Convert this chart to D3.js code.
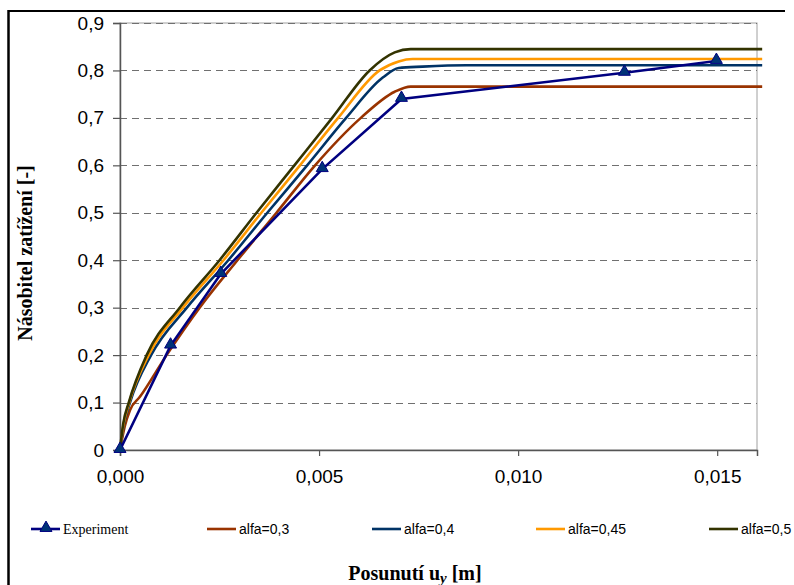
<!DOCTYPE html>
<html>
<head>
<meta charset="utf-8">
<script src="https://cdn.jsdelivr.net/npm/d3@7"></script>
<style>
  body { margin: 0; background: #fff; }
  svg { display: block; }
  .tick-label { font-family: "Liberation Sans", Arial, sans-serif; font-size: 19px; fill: #000; }
  .leg { font-size: 14px; fill: #000; }
  .title { font-family: "Liberation Serif", "Times New Roman", serif; font-weight: bold; font-size: 20px; fill: #000; }
</style>
</head>
<body>
<svg width="794" height="585"></svg>
<script>
// data (x in m, y = load multiplier)
var expX   = [0, 0.00127, 0.00253, 0.00508, 0.00707, 0.01267, 0.01498];
var expY   = [0, 0.220, 0.371, 0.592, 0.740, 0.795, 0.820];

var a03X = [0, 0.00012, 0.00025, 0.00050, 0.00117, 0.00200, 0.00295, 0.00393, 0.00490, 0.00605, 0.00690, 0.00730, 0.01613];
var a03Y = [0, 0.050, 0.084, 0.112, 0.200, 0.300, 0.400, 0.500, 0.600, 0.700, 0.755, 0.766, 0.766];

var a04X = [0, 0.00010, 0.00025, 0.00078, 0.00168, 0.00272, 0.00370, 0.00470, 0.00568, 0.00660, 0.00700, 0.00760, 0.00870, 0.01613];
var a04Y = [0, 0.055, 0.100, 0.200, 0.300, 0.400, 0.500, 0.600, 0.700, 0.785, 0.805, 0.808, 0.811, 0.811];

var a045X = [0, 0.00009, 0.00023, 0.00072, 0.00158, 0.00260, 0.00355, 0.00452, 0.00548, 0.00652, 0.00700, 0.00735, 0.01613];
var a045Y = [0, 0.055, 0.100, 0.200, 0.300, 0.400, 0.500, 0.600, 0.700, 0.800, 0.819, 0.824, 0.824];

var a05X = [0, 0.00008, 0.00022, 0.00067, 0.00150, 0.00250, 0.00343, 0.00438, 0.00533, 0.00627, 0.00690, 0.00730, 0.01613];
var a05Y = [0, 0.055, 0.100, 0.200, 0.300, 0.400, 0.500, 0.600, 0.700, 0.800, 0.838, 0.845, 0.845];

var xTicks = [0, 0.005, 0.010, 0.015];
var yTicks = [0, 0.1, 0.2, 0.3, 0.4, 0.5, 0.6, 0.7, 0.8, 0.9];

var series = [
  {name: "alfa=0,3",  xs: a03X,  ys: a03Y,  color: "#993300"},
  {name: "alfa=0,4",  xs: a04X,  ys: a04Y,  color: "#003366"},
  {name: "alfa=0,45", xs: a045X, ys: a045Y, color: "#ff9900"},
  {name: "alfa=0,5",  xs: a05X,  ys: a05Y,  color: "#333300"}
];

var svg = d3.select("svg");
var pLeft = 120, pRight = 757, pTop = 23, pBottom = 450;

var x = d3.scaleLinear().domain([0, 0.016]).range([pLeft, pRight]);
var y = d3.scaleLinear().domain([0, 0.9]).range([pBottom, pTop]);

var fmtX = d3.format(".3f"), fmtY = function(d) { return d === 0 ? "0" : d3.format(".1f")(d); };
var comma = function(s) { return s.replace(".", ","); };

// outer frame (only top and left visible)
svg.append("line").attr("x1", 8).attr("x2", 785).attr("y1", 11).attr("y2", 11)
  .attr("stroke", "#000").attr("stroke-width", 2);
svg.append("line").attr("x1", 8.5).attr("x2", 8.5).attr("y1", 10).attr("y2", 585)
  .attr("stroke", "#000").attr("stroke-width", 2.5);

// plot area border
svg.append("rect").attr("x", pLeft).attr("y", pTop).attr("width", pRight - pLeft).attr("height", pBottom - pTop)
  .attr("fill", "none").attr("stroke", "#a0a0a0").attr("stroke-width", 1);

// gridlines
svg.append("g").selectAll("line").data(yTicks.filter(function(d) { return d > 0; })).enter().append("line")
  .attr("x1", pLeft).attr("x2", pRight)
  .attr("y1", function(d) { return Math.round(y(d)) + 0.5; })
  .attr("y2", function(d) { return Math.round(y(d)) + 0.5; })
  .attr("stroke", "#707070").attr("stroke-dasharray", "7,5");

// axes
var yAxis = svg.append("g").attr("transform", "translate(" + pLeft + ",0)")
  .call(d3.axisLeft(y).tickValues(yTicks).tickSize(7).tickPadding(9).tickFormat(function(d) { return comma(fmtY(d)); }));
var xAxis = svg.append("g").attr("transform", "translate(0," + pBottom + ")")
  .call(d3.axisBottom(x).tickValues(xTicks).tickSize(6).tickPadding(14).tickFormat(function(d) { return comma(fmtX(d)); }));
[yAxis, xAxis].forEach(function(a) {
  a.select(".domain").attr("stroke", "#555").attr("stroke-width", 1.5);
  a.selectAll(".tick line").attr("stroke", "#555").attr("stroke-width", 1.2);
  a.selectAll(".tick text").attr("class", "tick-label").attr("font-size", null).attr("font-family", null);
});

// simulated curves (smooth)
var curve = d3.line().curve(d3.curveMonotoneX).x(function(d) { return x(d[0]); }).y(function(d) { return y(d[1]); });
series.forEach(function(s) {
  var pts = s.xs.map(function(v, i) { return [v, s.ys[i]]; });
  svg.append("path").datum(pts).attr("d", curve)
    .attr("fill", "none").attr("stroke", s.color).attr("stroke-width", 2.6).attr("stroke-linejoin", "round");
});

// experiment (straight segments)
var line = d3.line().x(function(d) { return x(d[0]); }).y(function(d) { return y(d[1]); });
var expPts = expX.map(function(v, i) { return [v, expY[i]]; });
svg.append("path").datum(expPts).attr("d", line)
  .attr("fill", "none").attr("stroke", "#000080").attr("stroke-width", 2.6);
var tri = d3.symbol().type(d3.symbolTriangle).size(62);
svg.append("g").selectAll("path").data(expPts).enter().append("path")
  .attr("d", tri)
  .attr("transform", function(d) { return "translate(" + x(d[0]) + "," + (y(d[1]) - 1) + ")"; })
  .attr("fill", "#003377").attr("stroke", "#000080").attr("stroke-width", 1);

// legend
var legY = 529;
var legend = [
  {name: "Experiment", color: "#000080", x0: 31, serif: true, marker: true},
  {name: series[0].name, color: series[0].color, x0: 207},
  {name: series[1].name, color: series[1].color, x0: 372},
  {name: series[2].name, color: series[2].color, x0: 536},
  {name: series[3].name, color: series[3].color, x0: 709}
];
legend.forEach(function(l) {
  svg.append("line").attr("x1", l.x0).attr("x2", l.x0 + 29).attr("y1", legY).attr("y2", legY)
    .attr("stroke", l.color).attr("stroke-width", 2.6);
  if (l.marker) {
    svg.append("path").attr("d", tri).attr("transform", "translate(" + (l.x0 + 15) + "," + (legY - 1) + ")")
      .attr("fill", "#003377").attr("stroke", "#000080");
  }
  svg.append("text").attr("class", "leg").attr("x", l.x0 + 32).attr("y", legY + 5)
    .attr("font-family", l.serif ? "'Liberation Serif', 'Times New Roman', serif" : "'Liberation Sans', Arial, sans-serif")
    .text(l.name);
});

// axis titles
var xt = svg.append("text").attr("class", "title").attr("x", 415).attr("y", 580).attr("text-anchor", "middle");
xt.append("tspan").text("Posunutí u");
xt.append("tspan").attr("font-style", "italic").attr("font-size", "15px").attr("dy", 3).text("y");
xt.append("tspan").attr("dy", -3).text("  [m]");

svg.append("text").attr("class", "title")
  .attr("transform", "translate(32,253) rotate(-90)")
  .attr("text-anchor", "middle")
  .text("Násobitel zatížení [-]");
</script>
</body>
</html>
